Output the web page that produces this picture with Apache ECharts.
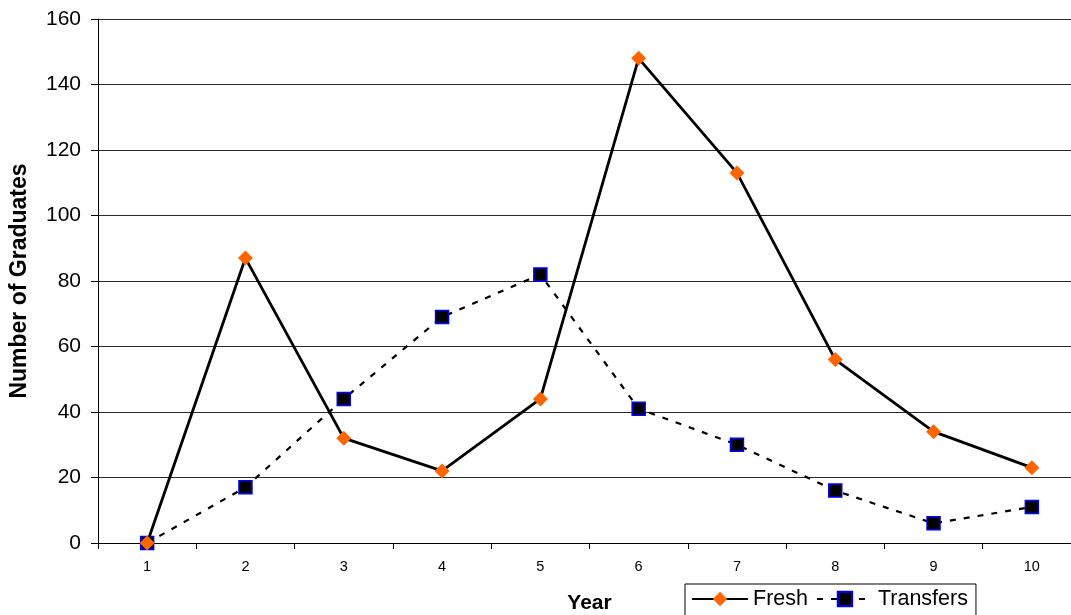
<!DOCTYPE html>
<html><head><meta charset="utf-8">
<script src="https://cdn.jsdelivr.net/npm/echarts@6/dist/echarts.min.js"></script>
<style>html,body{margin:0;padding:0;background:#fff}#c{width:1071px;height:615px}</style>
</head><body><div id="c"></div>
<script>
var years = ['1','2','3','4','5','6','7','8','9','10'];
var fresh = [0, 87, 32, 22, 44, 148, 113, 56, 34, 23];
var transfers = [0, 17, 44, 69, 82, 41, 30, 16, 6, 11];
var yTicks = {min: 0, max: 160, interval: 20};

var chart = echarts.init(document.getElementById('c'), null, {renderer: 'canvas'});
var font = 'Arial, "Liberation Sans", sans-serif';
chart.setOption({
  animation: false,
  backgroundColor: '#fff',
  grid: {left: 98, top: 19, bottom: 72, width: 983, outerBoundsMode: 'none', containLabel: false},
  legend: {
    left: 685, top: 584,
    padding: [4, 8, 10, 6],
    itemGap: 8,
    itemWidth: 56, itemHeight: 18,
    borderColor: '#000', borderWidth: 1, borderRadius: 0,
    textStyle: {fontFamily: font, fontSize: 21.5, color: '#000'},
    data: ['Fresh', 'Transfers']
  },
  xAxis: {
    type: 'category', data: years, boundaryGap: true,
    name: 'Year', nameLocation: 'middle', nameGap: 50,
    nameTextStyle: {fontFamily: font, fontSize: 21, fontWeight: 'bold', color: '#000'},
    axisLine: {lineStyle: {color: '#000', width: 1}},
    axisTick: {show: true, length: 6, inside: false, lineStyle: {color: '#000'}},
    axisLabel: {fontFamily: font, fontSize: 14.5, color: '#000', margin: 16, interval: 0}
  },
  yAxis: {
    type: 'value', min: yTicks.min, max: yTicks.max, interval: yTicks.interval,
    name: 'Number of Graduates', nameLocation: 'middle', nameGap: 67,
    nameTextStyle: {fontFamily: font, fontSize: 23, fontWeight: 'bold', color: '#000'},
    axisLine: {show: true, lineStyle: {color: '#000', width: 1}},
    axisTick: {show: true, length: 7, lineStyle: {color: '#000'}},
    axisLabel: {fontFamily: font, fontSize: 21, color: '#000', margin: 17},
    splitLine: {show: true, lineStyle: {color: '#2a2a2a', width: 1}}
  },
  series: [
    {
      name: 'Fresh', type: 'line', data: fresh,
      symbol: 'diamond', symbolSize: 15,
      itemStyle: {color: '#FF6600', borderWidth: 0},
      lineStyle: {color: '#000', width: 2.8},
      z: 3
    },
    {
      name: 'Transfers', type: 'line', data: transfers,
      symbol: 'rect', symbolSize: 13,
      itemStyle: {color: '#000', borderColor: '#0000FF', borderWidth: 1.5},
      lineStyle: {color: '#000', width: 2.2, type: [6, 8]},
      z: 2
    }
  ]
});
</script>
</body></html>
